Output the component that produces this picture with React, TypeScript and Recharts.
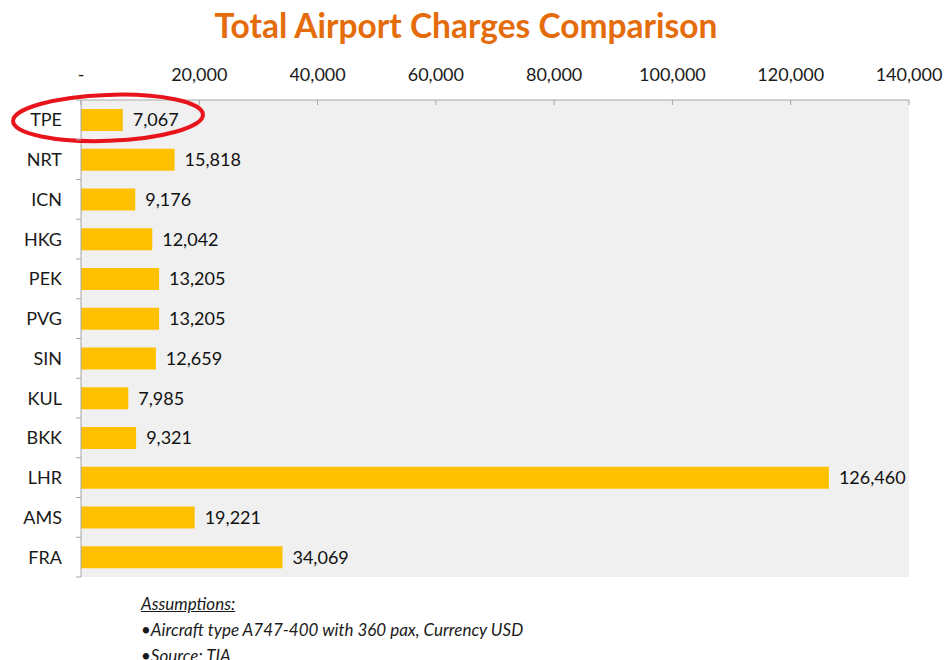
import React from "react";
import {
  BarChart,
  Bar,
  XAxis,
  YAxis,
  CartesianGrid,
  LabelList,
  ReferenceDot,
} from "recharts";

const airports = ["TPE", "NRT", "ICN", "HKG", "PEK", "PVG", "SIN", "KUL", "BKK", "LHR", "AMS", "FRA"];
const charges = [7067, 15818, 9176, 12042, 13205, 13205, 12659, 7985, 9321, 126460, 19221, 34069];
const xTicks = [0, 20000, 40000, 60000, 80000, 100000, 120000, 140000];

const FONT = "Lato, 'Open Sans', sans-serif";
const AXIS_GREY = "#a6a6a6";

const chartData = airports.map((code, i) => ({ code, total: charges[i] }));

function formatTick(v: number): string {
  return v === 0 ? "-" : v.toLocaleString("en-US");
}

// category label plus small tick marks on the row boundaries (Excel style)
function CategoryTick(props: any) {
  const { x, y, payload, index } = props;
  const half = payload?.offset ?? 0;
  const axisX = x + 19;
  const isLast = index === airports.length - 1;
  return (
    <g>
      <line x1={axisX - 5} x2={axisX} y1={y - half} y2={y - half} stroke={AXIS_GREY} />
      {isLast && <line x1={axisX - 5} x2={axisX} y1={y + half} y2={y + half} stroke={AXIS_GREY} />}
      <text x={x} y={y} dy="0.355em" textAnchor="end" fill="#1a1a1a" fontSize={18} fontFamily={FONT}>
        {payload.value}
      </text>
    </g>
  );
}

// red ellipse drawn around the highlighted airport row
function HighlightEllipse(props: { cx?: number; cy?: number }) {
  const { cx = 0, cy = 0 } = props;
  return (
    <ellipse
      cx={cx}
      cy={cy - 2}
      rx={95}
      ry={23}
      fill="none"
      stroke="#e8141c"
      strokeWidth={4}
      transform={`rotate(-2 ${cx} ${cy - 2})`}
    />
  );
}

export default function App() {
  return (
    <div
      style={{
        position: "absolute",
        left: 0,
        top: 0,
        width: 947,
        height: 660,
        background: "#fff",
        fontFamily: FONT,
        overflow: "hidden",
      }}
    >
      <div
        style={{
          position: "absolute",
          top: 5,
          left: 0,
          width: 932,
          textAlign: "center",
          fontSize: 33.5,
          fontWeight: 700,
          color: "#e46c0a",
        }}
      >
        Total Airport Charges Comparison
      </div>
      <div style={{ position: "absolute", left: 0, top: 0 }}>
        <BarChart
          width={947}
          height={660}
          data={chartData}
          layout="vertical"
          margin={{ top: 60, right: 38, bottom: 83, left: 0 }}
        >
          <CartesianGrid fill="#f0f0f0" horizontal={false} vertical={false} />
          <XAxis
            type="number"
            orientation="top"
            domain={[0, 140000]}
            ticks={xTicks}
            tickFormatter={formatTick}
            height={40}
            axisLine={{ stroke: AXIS_GREY }}
            tickLine={{ stroke: AXIS_GREY }}
            tickSize={-5}
            tickMargin={24}
            tick={{ fill: "#1a1a1a", fontSize: 18, fontFamily: FONT }}
            interval={0}
          />
          <YAxis
            type="category"
            dataKey="code"
            width={81}
            axisLine={{ stroke: AXIS_GREY }}
            tickLine={false}
            tickSize={6}
            tickMargin={13}
            tick={<CategoryTick />}
            interval={0}
          />
          <Bar dataKey="total" fill="#ffc000" barSize={22} isAnimationActive={false}>
            <LabelList
              dataKey="total"
              position="right"
              offset={10}
              formatter={(v: any) => Number(v).toLocaleString("en-US")}
              style={{ fill: "#111", fontSize: 18, fontFamily: FONT }}
            />
          </Bar>
          <ReferenceDot
            x={4565}
            y="TPE"
            ifOverflow="visible"
            shape={(p: any) => <HighlightEllipse cx={p.cx} cy={p.cy} />}
          />
        </BarChart>
      </div>
      <div
        style={{
          position: "absolute",
          left: 141,
          top: 591,
          fontSize: 17,
          fontStyle: "italic",
          color: "#1a1a1a",
          lineHeight: "26px",
        }}
      >
        <div style={{ textDecoration: "underline" }}>Assumptions:</div>
        <div>•Aircraft type A747-400 with 360 pax, Currency USD</div>
        <div>•Source: TIA</div>
      </div>
    </div>
  );
}
